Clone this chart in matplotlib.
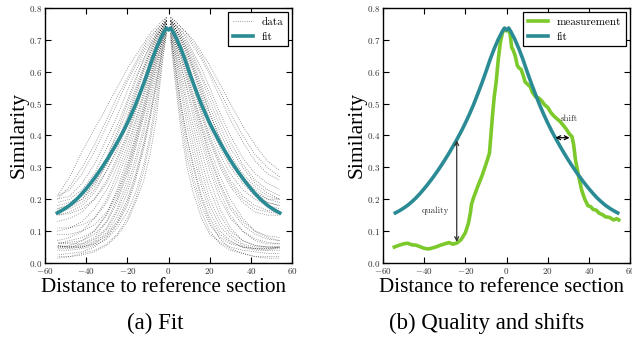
import matplotlib
matplotlib.use('Agg')
import matplotlib.pyplot as plt
from matplotlib.ticker import FuncFormatter, MultipleLocator

teal = '#2b8b95'
green = '#7cc92c'

# fitted model (same curve on both panels)
fit_x = [-54, -52, -50, -48, -46, -44, -42, -40, -38, -36, -34, -32, -30, -28, -26, -24,
         -22, -20, -18, -16, -14, -12, -10, -8, -6, -4, -2, -1, 0,
         1, 2, 4, 6, 8, 10, 12, 14, 16, 18, 20, 22, 24, 26, 28, 30, 32, 34, 36, 38, 40,
         42, 44, 46, 48, 50, 52, 54]
fit_y = [0.157, 0.164, 0.172, 0.181, 0.192, 0.204, 0.218, 0.233, 0.249, 0.266, 0.284,
         0.303, 0.323, 0.344, 0.366, 0.389, 0.413, 0.439, 0.467, 0.497, 0.530, 0.564,
         0.600, 0.638, 0.672, 0.702, 0.727, 0.737, 0.731,
         0.737, 0.727, 0.702, 0.672, 0.638, 0.600, 0.564, 0.530, 0.497, 0.467, 0.439,
         0.413, 0.389, 0.366, 0.344, 0.323, 0.303, 0.284, 0.266, 0.249, 0.233, 0.218,
         0.204, 0.192, 0.181, 0.172, 0.164, 0.157]
assert len(fit_x) == len(fit_y)

# single measurement (panel b)
meas_x = [-54.5, -52, -50, -48, -46, -44, -42, -40, -38, -36,
          -34, -32, -30, -28, -26, -24, -22, -20, -18.5, -17.5,
          -17, -16, -14, -12, -10, -9, -8.3, -7.6, -6.8, -6,
          -5, -4, -3, -2, -1, 0, 1, 1.8, 2.5, 3.2,
          4.2, 5.2, 6, 7, 8, 9, 10, 11.5, 12.5, 14,
          15.5, 17, 18.5, 20, 21.5, 23, 24.5, 26, 27.5, 29,
          30.5, 31.8, 32.6, 33.5, 35, 36.5, 38, 39.5, 41, 42,
          43.5, 45, 46.5, 48, 50, 52, 53.5, 54.5]
meas_y = [0.050, 0.056, 0.060, 0.062, 0.057, 0.056, 0.051, 0.046, 0.044, 0.047,
          0.051, 0.056, 0.060, 0.064, 0.059, 0.063, 0.074, 0.095, 0.125, 0.160,
          0.185, 0.205, 0.240, 0.272, 0.310, 0.330, 0.345, 0.400, 0.465, 0.520,
          0.570, 0.640, 0.692, 0.722, 0.734, 0.728, 0.736, 0.715, 0.676, 0.668,
          0.650, 0.620, 0.612, 0.608, 0.590, 0.568, 0.562, 0.553, 0.536, 0.522,
          0.518, 0.509, 0.496, 0.488, 0.472, 0.461, 0.452, 0.444, 0.432, 0.420,
          0.405, 0.396, 0.370, 0.322, 0.272, 0.228, 0.200, 0.180, 0.176, 0.168,
          0.166, 0.156, 0.152, 0.145, 0.143, 0.135, 0.139, 0.135]
assert len(meas_x) == len(meas_y)

# all measurements (panel a), as half profiles vs distance from 0
data_d = [1, 3, 6, 9, 12, 16, 20, 25, 30, 36, 42, 48, 54]
data_left = [
    [0.72, 0.63, 0.45, 0.34, 0.26, 0.19, 0.13, 0.085, 0.055, 0.035, 0.025, 0.02, 0.02],
    [0.73, 0.66, 0.52, 0.40, 0.31, 0.22, 0.16, 0.11, 0.075, 0.055, 0.045, 0.04, 0.04],
    [0.74, 0.68, 0.57, 0.47, 0.38, 0.28, 0.20, 0.13, 0.09, 0.06, 0.05, 0.05, 0.05],
    [0.74, 0.70, 0.61, 0.52, 0.43, 0.33, 0.24, 0.16, 0.105, 0.07, 0.055, 0.05, 0.055],
    [0.75, 0.71, 0.64, 0.56, 0.48, 0.38, 0.29, 0.20, 0.13, 0.08, 0.06, 0.05, 0.05],
    [0.75, 0.72, 0.66, 0.59, 0.52, 0.42, 0.33, 0.23, 0.155, 0.10, 0.07, 0.055, 0.05],
    [0.75, 0.72, 0.67, 0.61, 0.54, 0.45, 0.37, 0.28, 0.20, 0.14, 0.10, 0.08, 0.07],
    [0.75, 0.73, 0.68, 0.62, 0.56, 0.47, 0.39, 0.30, 0.23, 0.17, 0.13, 0.11, 0.10],
    [0.75, 0.73, 0.69, 0.63, 0.57, 0.49, 0.41, 0.33, 0.26, 0.20, 0.16, 0.14, 0.13],
    [0.76, 0.73, 0.69, 0.64, 0.58, 0.50, 0.43, 0.35, 0.29, 0.23, 0.19, 0.17, 0.16],
    [0.76, 0.74, 0.70, 0.65, 0.60, 0.52, 0.45, 0.37, 0.31, 0.25, 0.21, 0.185, 0.17],
    [0.76, 0.74, 0.71, 0.67, 0.62, 0.55, 0.48, 0.40, 0.33, 0.26, 0.215, 0.19, 0.18],
    [0.76, 0.74, 0.72, 0.68, 0.64, 0.58, 0.51, 0.43, 0.36, 0.28, 0.23, 0.20, 0.19],
    [0.76, 0.75, 0.72, 0.69, 0.66, 0.60, 0.54, 0.46, 0.39, 0.31, 0.25, 0.21, 0.20],
    [0.77, 0.75, 0.73, 0.70, 0.67, 0.62, 0.57, 0.50, 0.43, 0.35, 0.28, 0.23, 0.21],
    [0.77, 0.76, 0.74, 0.72, 0.69, 0.65, 0.61, 0.55, 0.49, 0.42, 0.35, 0.27, 0.21],
    [0.74, 0.70, 0.62, 0.54, 0.46, 0.36, 0.26, 0.17, 0.11, 0.075, 0.06, 0.06, 0.065],
    [0.75, 0.72, 0.65, 0.57, 0.49, 0.39, 0.30, 0.21, 0.15, 0.10, 0.08, 0.07, 0.06],
    [0.73, 0.67, 0.55, 0.45, 0.36, 0.26, 0.18, 0.12, 0.08, 0.05, 0.035, 0.03, 0.025],
    [0.75, 0.72, 0.66, 0.60, 0.53, 0.44, 0.35, 0.26, 0.19, 0.14, 0.12, 0.11, 0.11],
    [0.74, 0.69, 0.59, 0.50, 0.41, 0.31, 0.22, 0.145, 0.095, 0.065, 0.05, 0.045, 0.045],
    [0.75, 0.71, 0.65, 0.58, 0.50, 0.40, 0.31, 0.22, 0.16, 0.12, 0.10, 0.09, 0.09],
    [0.75, 0.73, 0.68, 0.63, 0.57, 0.48, 0.40, 0.32, 0.25, 0.20, 0.17, 0.155, 0.15],
    [0.76, 0.74, 0.70, 0.66, 0.61, 0.54, 0.46, 0.38, 0.31, 0.24, 0.20, 0.18, 0.17],
    [0.76, 0.74, 0.71, 0.68, 0.64, 0.57, 0.50, 0.41, 0.33, 0.25, 0.20, 0.175, 0.165],
    [0.77, 0.75, 0.73, 0.71, 0.68, 0.63, 0.58, 0.52, 0.45, 0.37, 0.30, 0.24, 0.20],
    [0.73, 0.67, 0.56, 0.46, 0.37, 0.27, 0.19, 0.125, 0.085, 0.06, 0.05, 0.05, 0.055],
    [0.74, 0.70, 0.63, 0.55, 0.47, 0.37, 0.28, 0.19, 0.13, 0.09, 0.07, 0.065, 0.06],
    [0.72, 0.64, 0.49, 0.38, 0.29, 0.20, 0.14, 0.09, 0.06, 0.04, 0.03, 0.02, 0.015],
    [0.76, 0.74, 0.71, 0.66, 0.61, 0.53, 0.45, 0.36, 0.29, 0.22, 0.18, 0.16, 0.15],
]
data_right = [
    [0.70, 0.58, 0.42, 0.30, 0.22, 0.14, 0.09, 0.065, 0.05, 0.04, 0.035, 0.03, 0.03],
    [0.72, 0.62, 0.48, 0.36, 0.27, 0.18, 0.12, 0.08, 0.06, 0.05, 0.045, 0.045, 0.045],
    [0.73, 0.66, 0.54, 0.43, 0.34, 0.24, 0.16, 0.10, 0.07, 0.05, 0.04, 0.04, 0.05],
    [0.74, 0.68, 0.58, 0.49, 0.40, 0.29, 0.20, 0.13, 0.09, 0.06, 0.05, 0.05, 0.05],
    [0.74, 0.70, 0.62, 0.54, 0.46, 0.35, 0.26, 0.17, 0.11, 0.07, 0.055, 0.05, 0.05],
    [0.75, 0.71, 0.64, 0.57, 0.50, 0.40, 0.31, 0.22, 0.15, 0.10, 0.07, 0.06, 0.06],
    [0.75, 0.72, 0.66, 0.60, 0.53, 0.44, 0.36, 0.27, 0.20, 0.14, 0.10, 0.08, 0.07],
    [0.75, 0.72, 0.67, 0.61, 0.55, 0.46, 0.38, 0.30, 0.24, 0.19, 0.16, 0.15, 0.15],
    [0.75, 0.73, 0.68, 0.63, 0.57, 0.48, 0.40, 0.32, 0.26, 0.21, 0.18, 0.165, 0.16],
    [0.76, 0.73, 0.69, 0.64, 0.58, 0.50, 0.42, 0.34, 0.28, 0.23, 0.20, 0.18, 0.17],
    [0.76, 0.74, 0.70, 0.65, 0.60, 0.52, 0.44, 0.36, 0.30, 0.25, 0.21, 0.19, 0.18],
    [0.76, 0.74, 0.71, 0.67, 0.62, 0.55, 0.47, 0.39, 0.32, 0.27, 0.23, 0.20, 0.19],
    [0.76, 0.75, 0.72, 0.68, 0.64, 0.58, 0.51, 0.43, 0.36, 0.30, 0.25, 0.22, 0.20],
    [0.76, 0.75, 0.73, 0.70, 0.66, 0.61, 0.55, 0.47, 0.40, 0.33, 0.28, 0.25, 0.23],
    [0.77, 0.75, 0.73, 0.71, 0.68, 0.64, 0.59, 0.52, 0.45, 0.38, 0.32, 0.28, 0.26],
    [0.77, 0.76, 0.74, 0.72, 0.70, 0.66, 0.62, 0.56, 0.50, 0.43, 0.37, 0.32, 0.29],
    [0.74, 0.69, 0.60, 0.51, 0.43, 0.32, 0.23, 0.15, 0.10, 0.07, 0.055, 0.05, 0.05],
    [0.75, 0.71, 0.65, 0.58, 0.51, 0.42, 0.33, 0.24, 0.17, 0.12, 0.09, 0.075, 0.07],
    [0.72, 0.64, 0.50, 0.39, 0.30, 0.20, 0.13, 0.075, 0.045, 0.03, 0.02, 0.02, 0.02],
    [0.76, 0.74, 0.70, 0.66, 0.61, 0.54, 0.47, 0.39, 0.32, 0.26, 0.22, 0.20, 0.20],
    [0.73, 0.67, 0.56, 0.46, 0.37, 0.26, 0.18, 0.115, 0.08, 0.055, 0.045, 0.04, 0.04],
    [0.75, 0.71, 0.65, 0.59, 0.52, 0.43, 0.34, 0.25, 0.18, 0.13, 0.10, 0.085, 0.08],
    [0.75, 0.73, 0.68, 0.62, 0.56, 0.47, 0.39, 0.31, 0.25, 0.20, 0.17, 0.16, 0.155],
    [0.76, 0.74, 0.70, 0.66, 0.61, 0.53, 0.45, 0.37, 0.31, 0.26, 0.22, 0.19, 0.18],
    [0.76, 0.75, 0.72, 0.69, 0.65, 0.59, 0.53, 0.45, 0.38, 0.31, 0.26, 0.23, 0.21],
    [0.77, 0.76, 0.74, 0.72, 0.69, 0.65, 0.60, 0.54, 0.47, 0.40, 0.34, 0.30, 0.27],
    [0.72, 0.63, 0.50, 0.39, 0.31, 0.21, 0.14, 0.09, 0.065, 0.05, 0.045, 0.045, 0.05],
    [0.74, 0.70, 0.62, 0.55, 0.48, 0.38, 0.29, 0.20, 0.14, 0.10, 0.075, 0.065, 0.06],
    [0.71, 0.60, 0.45, 0.33, 0.25, 0.16, 0.10, 0.06, 0.04, 0.03, 0.02, 0.015, 0.015],
    [0.76, 0.74, 0.71, 0.67, 0.63, 0.56, 0.49, 0.41, 0.34, 0.28, 0.24, 0.21, 0.20],
]

plt.rcParams['mathtext.fontset'] = 'cm'
label_font = 'Liberation Serif'
cm_font = 'cmr10'


def style_axes(ax):
    ax.set_xlim(-60, 60)
    ax.set_ylim(0, 0.8)
    ax.xaxis.set_major_locator(MultipleLocator(20))
    ax.yaxis.set_major_locator(MultipleLocator(0.1))
    ax.xaxis.set_major_formatter(FuncFormatter(lambda v, p: '$%d$' % round(v)))
    ax.yaxis.set_major_formatter(FuncFormatter(lambda v, p: '$%.1f$' % v))
    ax.tick_params(direction='in', top=True, right=True, length=4, width=0.8,
                   labelsize=6.5, pad=2, labelcolor='#333333')
    for s in ax.spines.values():
        s.set_linewidth(1.0)
    ax.set_xlabel('Distance to reference section', family=label_font, fontsize=15.2)
    ax.xaxis.set_label_coords(0.48, -0.058, transform=ax.transAxes)
    ax.xaxis.label.set_va('top')
    ax.set_ylabel('Similarity', family=label_font, fontsize=15.5, labelpad=0)


def add_legend(ax):
    leg = ax.legend(loc='upper right', prop={'family': cm_font, 'size': 8},
                    fancybox=False, edgecolor='k', framealpha=1,
                    borderaxespad=0.4, handlelength=1.8)
    leg.get_frame().set_linewidth(0.9)


fig = plt.figure(figsize=(6.32, 3.48), dpi=100)
ax_a = fig.add_axes([0.0712, 0.2443, 0.391, 0.7328])
ax_b = fig.add_axes([0.606, 0.2443, 0.391, 0.7328])

# (a) all measurements with the fit
left_x = [-d for d in data_d]
for i, prof in enumerate(data_left):
    ax_a.plot(left_x, prof, ':', color='k', lw=0.6, alpha=0.5,
              label='data' if i == 0 else None)
for prof in data_right:
    ax_a.plot(data_d, prof, ':', color='k', lw=0.6, alpha=0.5)
ax_a.plot(fit_x, fit_y, color=teal, lw=2.6, label='fit')
style_axes(ax_a)
add_legend(ax_a)

# (b) one measurement, quality and shift
ax_b.plot(meas_x, meas_y, color=green, lw=2.6, label='measurement')
ax_b.plot(fit_x, fit_y, color=teal, lw=2.6, label='fit')
ax_b.annotate('', xy=(-24.2, 0.385), xytext=(-24.2, 0.066),
              arrowprops=dict(arrowstyle='<->', color='#333333', lw=0.9,
                              shrinkA=0, shrinkB=0, mutation_scale=7))
ax_b.text(-34.3, 0.163, 'quality', family=cm_font, fontsize=6.5, color='#333333',
          ha='center', va='center')
ax_b.annotate('', xy=(23.7, 0.393), xytext=(30.6, 0.393),
              arrowprops=dict(arrowstyle='<->', color='k', lw=0.9,
                              shrinkA=0, shrinkB=0, mutation_scale=7))
ax_b.text(30.5, 0.451, 'shift', family=cm_font, fontsize=6.5, color='#333333',
          ha='center', va='center')
style_axes(ax_b)
add_legend(ax_b)

fig.text(155 / 632, 1 - 323 / 348, '(a) Fit', family=label_font, fontsize=16.5,
         ha='center', va='center')
fig.text(487 / 632, 1 - 323 / 348, '(b) Quality and shifts', family=label_font, fontsize=16.5,
         ha='center', va='center')

fig.savefig('out.png', dpi=100)
